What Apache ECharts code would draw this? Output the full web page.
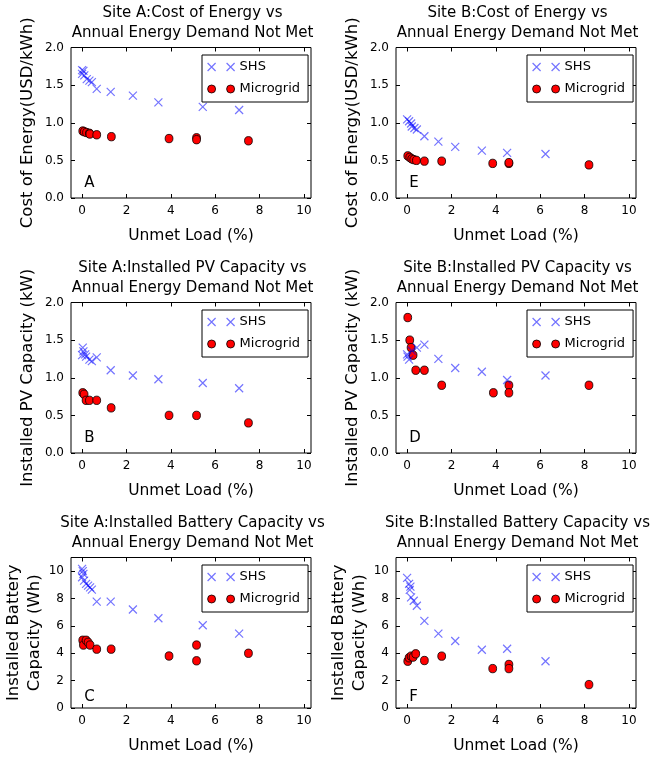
<!DOCTYPE html>
<html><head><meta charset="utf-8">
<script src="https://cdn.jsdelivr.net/npm/echarts@6/dist/echarts.min.js"></script>
<style>html,body{margin:0;padding:0;background:#fff}#c{width:658px;height:761px}</style>
</head><body><div id="c"></div>
<script>
// ---- tick labels ----
const xTicks = [0, 2, 4, 6, 8, 10];
const yTicksUnit = [0, 0.5, 1.0, 1.5, 2.0];
const yTicksBattery = [0, 2, 4, 6, 8, 10];

// ---- text ----
const panelTitles = [
  'Site A:Cost of Energy vs\nAnnual Energy Demand Not Met',
  'Site B:Cost of Energy vs\nAnnual Energy Demand Not Met',
  'Site A:Installed PV Capacity vs\nAnnual Energy Demand Not Met',
  'Site B:Installed PV Capacity vs\nAnnual Energy Demand Not Met',
  'Site A:Installed Battery Capacity vs\nAnnual Energy Demand Not Met',
  'Site B:Installed Battery Capacity vs\nAnnual Energy Demand Not Met'
];
const yNames = ['Cost of Energy(USD/kWh)', 'Cost of Energy(USD/kWh)',
  'Installed PV Capacity (kW)', 'Installed PV Capacity (kW)',
  'Installed Battery\nCapacity (Wh)', 'Installed Battery\nCapacity (Wh)'];
const xName = 'Unmet Load (%)';
const panelLetters = ['A', 'E', 'B', 'D', 'C', 'F'];

// ---- data: [unmet load %, value] ----
const siteA_SHS_cost = [[0.0,1.70],[0.06,1.69],[0.0,1.65],[0.1,1.63],[0.21,1.58],[0.33,1.56],[0.44,1.54],[0.66,1.45],[1.29,1.41],[2.29,1.36],[3.44,1.27],[5.44,1.21],[7.08,1.17]];
const siteA_MG_cost = [[0.03,0.89],[0.1,0.88],[0.2,0.87],[0.33,0.86],[0.35,0.85],[0.66,0.84],[1.32,0.815],[3.92,0.79],[5.16,0.80],[5.16,0.775],[7.5,0.76]];
const siteB_SHS_cost = [[0.0,1.045],[0.09,1.02],[0.18,0.99],[0.21,0.95],[0.33,0.93],[0.44,0.91],[0.78,0.82],[1.41,0.75],[2.17,0.68],[3.37,0.63],[4.51,0.60],[6.24,0.585]];
const siteB_MG_cost = [[0.03,0.56],[0.12,0.54],[0.21,0.52],[0.3,0.51],[0.42,0.50],[0.78,0.49],[1.56,0.49],[3.86,0.46],[4.59,0.46],[4.59,0.47],[8.2,0.44]];
const siteA_SHS_pv = [[0.0,1.30],[0.03,1.40],[0.06,1.35],[0.14,1.31],[0.18,1.28],[0.33,1.24],[0.44,1.22],[0.66,1.27],[1.29,1.10],[2.29,1.03],[3.44,0.98],[5.44,0.93],[7.08,0.86]];
const siteA_MG_pv = [[0.03,0.8],[0.09,0.78],[0.18,0.7],[0.33,0.7],[0.66,0.7],[1.31,0.6],[3.92,0.5],[5.16,0.5],[7.5,0.4]];
const siteB_SHS_pv = [[0.0,1.31],[0.02,1.28],[0.09,1.24],[0.21,1.36],[0.44,1.40],[0.78,1.44],[1.41,1.25],[2.17,1.13],[3.37,1.08],[4.51,0.97],[6.24,1.03]];
const siteB_MG_pv = [[0.03,1.8],[0.12,1.5],[0.18,1.4],[0.27,1.3],[0.39,1.1],[0.78,1.1],[1.56,0.9],[3.89,0.8],[4.59,0.9],[4.59,0.8],[8.2,0.9]];
const siteA_SHS_bat = [[0.0,10.17],[0.03,10.0],[0.06,9.8],[0.0,9.56],[0.09,9.31],[0.18,9.07],[0.27,8.94],[0.36,8.82],[0.44,8.65],[0.66,7.77],[1.29,7.77],[2.29,7.2],[3.44,6.56],[5.44,6.05],[7.08,5.44]];
const siteA_MG_bat = [[0.03,4.95],[0.06,4.6],[0.18,4.95],[0.27,4.8],[0.36,4.6],[0.66,4.3],[1.31,4.3],[3.92,3.8],[5.16,4.6],[5.16,3.45],[7.5,4.0]];
const siteB_SHS_bat = [[0.0,9.51],[0.09,9.07],[0.15,8.87],[0.12,8.63],[0.18,8.09],[0.3,7.84],[0.44,7.47],[0.78,6.37],[1.41,5.44],[2.17,4.9],[3.37,4.26],[4.51,4.33],[6.24,3.42]];
const siteB_MG_bat = [[0.03,3.42],[0.09,3.67],[0.18,3.79],[0.27,3.72],[0.39,3.96],[0.78,3.47],[1.56,3.79],[3.86,2.88],[4.59,3.18],[4.59,2.88],[8.2,1.71]];

const panelSHS = [siteA_SHS_cost, siteB_SHS_cost, siteA_SHS_pv, siteB_SHS_pv, siteA_SHS_bat, siteB_SHS_bat];
const panelMG = [siteA_MG_cost, siteB_MG_cost, siteA_MG_pv, siteB_MG_pv, siteA_MG_bat, siteB_MG_bat];
const letterPos = [[0.1,0.2],[0.1,0.2],[0.1,0.2],[0.1,0.2],[0.1,0.8],[0.1,0.8]];

// ---- layout ----
const FONT = 'DejaVu Sans';
const colLeft = [71, 396];
const rowTop = [47.5, 302.5, 557.5];
const PW = 240, PH = 150.5;
const X_MIN = -0.5, X_MAX = 10.32;
const yMax = [2, 2, 2, 2, 11, 11];

const SHS_ICON = 'path://M0,0L10,10M10,0L0,10';
const SHS_LEG = 'path://M0,0L8,8M8,0L0,8M19,0L27,8M27,0L19,8';
const MG_LEG = 'path://M0,4A4,4 0 1,0 8,4A4,4 0 1,0 0,4ZM19,4A4,4 0 1,0 27,4A4,4 0 1,0 19,4Z';
const shsStyle = {color: 'transparent', borderColor: 'rgba(0,0,255,0.55)', borderWidth: 1.2, opacity: 1};
const mgStyle = {color: '#ff0000', borderColor: '#000000', borderWidth: 0.8, opacity: 1};

const grid = [], xAxis = [], yAxis = [], series = [], legend = [], graphic = [];
for (let p = 0; p < 6; p++) {
  const r = Math.floor(p / 2), c = p % 2;
  const L = colLeft[c], T = rowTop[r];
  grid.push({left: L, top: T, width: PW, height: PH, show: true, borderColor: '#000', borderWidth: 1, backgroundColor: 'transparent'});
  const tickStyle = {show: true, inside: true, length: 4, lineStyle: {color: '#000', width: 1}};
  const noLine = {show: false, onZero: false};
  const yt = p >= 4 ? yTicksBattery : yTicksUnit;
  xAxis.push({gridIndex: p, type: 'value', min: X_MIN, max: X_MAX, position: 'bottom',
    axisLine: noLine, splitLine: {show: false},
    axisTick: Object.assign({customValues: xTicks}, tickStyle),
    axisLabel: {customValues: xTicks, color: '#000', fontFamily: FONT, fontSize: 12, margin: 7},
    name: xName, nameLocation: 'middle', nameGap: 30,
    nameTextStyle: {color: '#000', fontFamily: FONT, fontSize: 15.5}});
  xAxis.push({gridIndex: p, type: 'value', min: X_MIN, max: X_MAX, position: 'top',
    axisLine: noLine, splitLine: {show: false},
    axisTick: Object.assign({customValues: xTicks}, tickStyle),
    axisLabel: {show: false}});
  yAxis.push({gridIndex: p, type: 'value', min: 0, max: yMax[p], position: 'left',
    axisLine: noLine, splitLine: {show: false},
    axisTick: Object.assign({customValues: yt}, tickStyle),
    axisLabel: {customValues: yt, color: '#000', fontFamily: FONT, fontSize: 12, margin: 7,
      formatter: p >= 4 ? (v => String(v)) : (v => v.toFixed(1))},
    name: yNames[p], nameLocation: 'middle', nameGap: p >= 4 ? 24 : 34,
    nameTextStyle: {color: '#000', fontFamily: FONT, fontSize: 16.5, lineHeight: p >= 4 ? 21 : 19}});
  yAxis.push({gridIndex: p, type: 'value', min: 0, max: yMax[p], position: 'right',
    axisLine: noLine, splitLine: {show: false},
    axisTick: Object.assign({customValues: yt}, tickStyle),
    axisLabel: {show: false}});
  series.push({name: 'SHS', type: 'scatter', xAxisIndex: 2 * p, yAxisIndex: 2 * p,
    symbol: SHS_ICON, symbolSize: 8, itemStyle: shsStyle, data: panelSHS[p], z: 3});
  series.push({name: 'Microgrid', type: 'scatter', xAxisIndex: 2 * p, yAxisIndex: 2 * p,
    symbol: 'circle', symbolSize: [7.8, 8.4], itemStyle: mgStyle, data: panelMG[p], z: 2});
  legend.push({orient: 'vertical', left: L + 131, top: T + 7.5,
    padding: [5, 8, 6, 5], itemGap: 8, itemWidth: 27, itemHeight: 8,
    borderColor: '#000', borderWidth: 1, borderRadius: 0, backgroundColor: '#fff',
    selectedMode: false,
    textStyle: {color: '#000', fontFamily: FONT, fontSize: 13, lineHeight: 14},
    data: [{name: 'SHS', icon: SHS_LEG, itemStyle: shsStyle},
           {name: 'Microgrid', icon: MG_LEG, itemStyle: mgStyle}]});
  graphic.push({type: 'text', x: L + PW / 2 + 1.5, y: T - 44, silent: true,
    style: {text: panelTitles[p], textAlign: 'center', textVerticalAlign: 'top',
      font: '15px "DejaVu Sans"', lineHeight: 20, fill: '#000'}});
}

const chart = echarts.init(document.getElementById('c'), null, {renderer: 'canvas'});
chart.setOption({animation: false, backgroundColor: '#fff', grid, xAxis, yAxis, series, legend, graphic});

// panel letters placed at data positions
const letterGraphics = [];
for (let p = 0; p < 6; p++) {
  const pt = chart.convertToPixel({xAxisIndex: 2 * p, yAxisIndex: 2 * p}, letterPos[p]);
  letterGraphics.push({type: 'text', x: pt[0], y: pt[1], silent: true,
    style: {text: panelLetters[p], textAlign: 'left', textVerticalAlign: 'middle',
      font: '15px "DejaVu Sans"', fill: '#000'}});
}
chart.setOption({graphic: graphic.concat(letterGraphics)});
</script></body></html>
